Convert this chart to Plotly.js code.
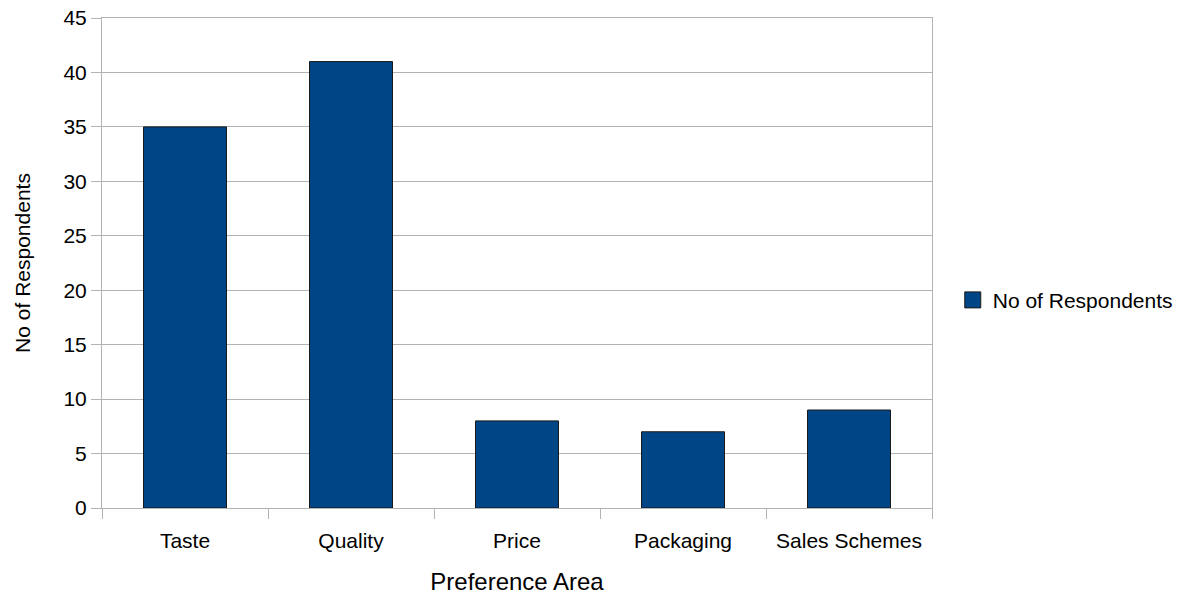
<!DOCTYPE html>
<html>
<head>
<meta charset="utf-8">
<script src="https://cdn.plot.ly/plotly-3.0.1.min.js"></script>
<style>html,body{margin:0;padding:0;background:#fff;}#chart{width:1190px;height:595px;}</style>
</head>
<body>
<div id="chart"></div>
<script>
var categories = ["Taste", "Quality", "Price", "Packaging", "Sales Schemes"];
var respondents = [35, 41, 8, 7, 9];
var seriesName = "No of Respondents";
var yTicks = [0, 5, 10, 15, 20, 25, 30, 35, 40, 45];

var barColor = "#004586";
var edgeColor = "#1a1a1a";

var trace = {
  type: "bar",
  x: categories,
  y: respondents,
  name: seriesName,
  showlegend: false,
  marker: {color: barColor, line: {color: edgeColor, width: 1}},
  hoverinfo: "x+y"
};

// legend entry only (larger square swatch like the reference)
var legendTrace = {
  type: "scatter",
  mode: "markers",
  x: [null],
  y: [null],
  name: seriesName,
  showlegend: true,
  marker: {symbol: "square", size: 16, color: barColor, line: {color: edgeColor, width: 1}},
  hoverinfo: "skip"
};

var fontFam = "Liberation Sans, Arial, sans-serif";
var layout = {
  width: 1190,
  height: 595,
  margin: {l: 102, r: 258, t: 18, b: 87},
  paper_bgcolor: "#ffffff",
  plot_bgcolor: "#ffffff",
  font: {family: fontFam, size: 21, color: "#000000"},
  showlegend: true,
  bargap: 0.5,
  xaxis: {
    type: "category",
    tickson: "boundaries",
    ticks: "outside",
    ticklen: 10,
    tickcolor: "#b3b3b3",
    ticklabelstandoff: 14,
    showline: true,
    linecolor: "#b3b3b3",
    mirror: true,
    showgrid: false,
    tickfont: {size: 21},
    title: {text: "Preference Area", font: {size: 24}, standoff: 23},
    automargin: false
  },
  yaxis: {
    range: [0, 45],
    tickvals: yTicks,
    ticks: "outside",
    ticklen: 10,
    tickcolor: "#b3b3b3",
    showline: true,
    linecolor: "#b3b3b3",
    mirror: true,
    showgrid: true,
    gridcolor: "#b3b3b3",
    gridwidth: 1,
    zeroline: false,
    tickfont: {size: 21},
    title: {text: "No of Respondents", font: {size: 21}, standoff: 27},
    automargin: false
  },
  legend: {
    x: 1.025,
    y: 0.424,
    xanchor: "left",
    yanchor: "middle",
    font: {size: 21},
    bgcolor: "rgba(0,0,0,0)"
  }
};

Plotly.newPlot("chart", [trace, legendTrace], layout, {displayModeBar: false, staticPlot: true});
</script>
</body>
</html>
